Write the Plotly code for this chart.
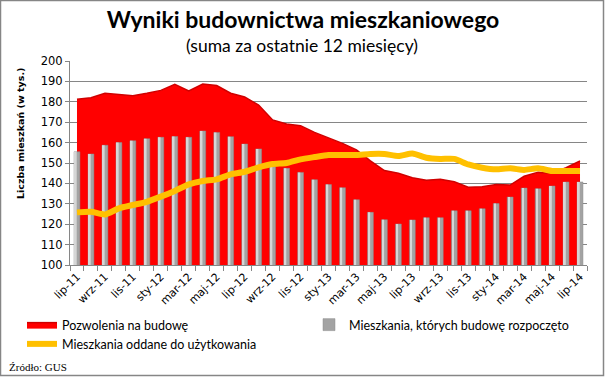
import plotly.graph_objects as go

months = ["lip-11","sie-11","wrz-11","paź-11","lis-11","gru-11",
          "sty-12","lut-12","mar-12","kwi-12","maj-12","cze-12",
          "lip-12","sie-12","wrz-12","paź-12","lis-12","gru-12",
          "sty-13","lut-13","mar-13","kwi-13","maj-13","cze-13",
          "lip-13","sie-13","wrz-13","paź-13","lis-13","gru-13",
          "sty-14","lut-14","mar-14","kwi-14","maj-14","cze-14","lip-14"]

pozwolenia = [181.2,182.0,184.2,183.7,183.0,184.2,185.6,188.6,185.3,188.7,188.0,184.2,
              182.4,178.4,171.1,169.1,168.3,165.0,162.4,159.6,156.4,151.0,146.3,145.0,
              142.8,141.5,142.0,140.8,138.1,138.4,139.5,139.2,143.5,145.4,145.0,147.7,151.0]

rozpoczete = [155.5,154.4,158.7,160.0,160.9,161.9,162.6,163.0,162.6,165.7,165.0,162.9,
              159.3,156.9,148.2,147.4,145.4,141.8,139.4,137.9,132.0,125.8,122.2,120.1,
              122.1,123.2,123.2,126.6,126.6,127.6,130.1,133.3,137.7,137.4,138.7,140.7,140.7]

oddane = [125.8,126.1,124.8,127.8,129.4,131.0,133.5,136.3,139.5,141.2,142.0,144.4,
          145.7,147.9,149.5,150.0,151.8,152.9,153.9,153.9,153.9,154.4,154.4,153.4,
          154.7,152.6,152.0,152.0,149.3,147.7,146.9,147.4,146.6,147.4,146.1,146.1,146.1]

tick_text = [m if i % 2 == 0 else "" for i, m in enumerate(months)]

W, H = 605, 377
ML, MR, MT, MB = 70, 18, 61, 112
PW, PH = W - ML - MR, H - MT - MB

def px(x):
    return (x - ML) / PW

def py(y):
    return (H - MB - y) / PH

fig = go.Figure()

fig.add_trace(go.Scatter(
    x=months, y=pozwolenia, name="Pozwolenia na budowę",
    mode="lines", fill="tozeroy", fillcolor="#FF0000",
    line=dict(color="#D00000", width=1.5), yaxis="y"))

fig.add_trace(go.Bar(
    x=months, y=rozpoczete, name="Mieszkania, których budowę rozpoczęto",
    marker=dict(color="#A3A3A3", line=dict(color="#8C8C8C", width=0.5)),
    width=0.42, offset=-0.21, yaxis="y2"))

fig.add_trace(go.Bar(
    x=months, y=rozpoczete, showlegend=False, hoverinfo="skip",
    marker=dict(color="#D6D6D6", line=dict(width=0)),
    width=0.13, offset=-0.15, yaxis="y2"))

fig.add_trace(go.Scatter(
    x=months, y=oddane, name="Mieszkania oddane do użytkowania",
    mode="lines", line=dict(color="#FFC000", width=6, shape="spline", smoothing=0.6),
    yaxis="y2"))

fig.update_layout(
    width=W, height=H,
    margin=dict(l=ML, r=MR, t=MT, b=MB, autoexpand=False),
    paper_bgcolor="white", plot_bgcolor="white",
    barmode="overlay",
    showlegend=True,
    legend=dict(orientation="h", x=px(22), y=py(310), xanchor="left", yanchor="top",
                entrywidth=242, tracegroupgap=0,
                font=dict(family="Lato", size=12.5, color="#000"),
                itemwidth=30),
    xaxis=dict(type="category", tickmode="array", tickvals=months, ticktext=tick_text,
               tickson="boundaries", ticks="outside", ticklen=5, tickcolor="#868686",
               tickangle=-45, showline=True, linecolor="#868686", linewidth=1,
               showgrid=False, tickfont=dict(family="DejaVu Sans", size=11, color="#000"),
               range=[-0.5, len(months) - 0.5]),
    yaxis=dict(range=[100, 200], dtick=10, tick0=100, showgrid=True, gridcolor="#868686",
               gridwidth=1, ticks="outside", ticklen=4, tickcolor="#868686",
               showline=True, linecolor="#868686", linewidth=1,
               tickfont=dict(family="DejaVu Sans", size=11.5, color="#000"),
               zeroline=False),
    yaxis2=dict(range=[100, 200], overlaying="y", visible=False),
    title=dict(text="<b>Wyniki budownictwa mieszkaniowego</b>", x=px(303), xref="paper",
               xanchor="center", y=1 - 20 / H, yanchor="middle",
               font=dict(family="Lato", size=23, color="#000")),
    annotations=[
        dict(text="(suma za ostatnie 12 miesięcy)", xref="paper", yref="paper",
             x=px(302), y=py(45), xanchor="center", yanchor="middle", showarrow=False,
             font=dict(family="Lato", size=17.5, color="#000")),
        dict(text="<b>Liczba mieszkań (w tys.)</b>", xref="paper", yref="paper",
             x=px(20), y=py(134), xanchor="center", yanchor="middle", showarrow=False,
             textangle=-90,
             font=dict(family="DejaVu Sans", size=9.5, color="#000")),
        dict(text="Źródło: GUS", xref="paper", yref="paper", x=px(7), y=py(367),
             xanchor="left", yanchor="middle", showarrow=False,
             font=dict(family="Liberation Serif", size=11, color="#000")),
    ],
    shapes=[dict(type="rect", xref="paper", yref="paper",
                 x0=px(0.5), x1=px(W - 1.5), y0=py(H - 1.5), y1=py(0.5),
                 line=dict(color="#868686", width=1.5), layer="above")],
)

fig.write_html("out.html", config={"displayModeBar": False},
               post_script="document.body.style.margin='0';document.body.style.padding='0';")
